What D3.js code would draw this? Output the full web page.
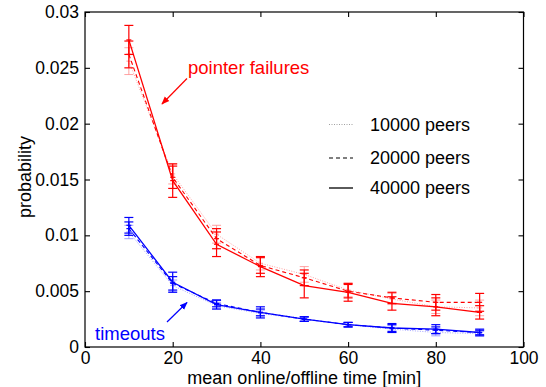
<!DOCTYPE html>
<html>
<head>
<meta charset="utf-8">
<script src="https://cdn.jsdelivr.net/npm/d3@7"></script>
<style>
  html, body { margin: 0; padding: 0; background: #fff; }
  svg { display: block; font-family: "Liberation Sans", Arial, Helvetica, sans-serif; }
</style>
</head>
<body>
<svg id="chart" width="546" height="387"></svg>
<script>
// Mean online/offline time (minutes)
const times = [10, 20, 30, 40, 50, 60, 70, 80, 90];

// Pointer failure probability, mean and half-width of error bar, per network size
const pf10k  = [0.0256, 0.0155, 0.0101, 0.0075, 0.0065, 0.0051, 0.0043, 0.0036, 0.0035];
const pf10kE = [0.0012, 0.0009, 0.0008, 0.0006, 0.0007, 0.0006, 0.0005, 0.0006, 0.0007];
const pf20k  = [0.0262, 0.0152, 0.0097, 0.0073, 0.0062, 0.0050, 0.0044, 0.0040, 0.0040];
const pf20kE = [0.0012, 0.0010, 0.0009, 0.0007, 0.0007, 0.0006, 0.0005, 0.0007, 0.0008];
const pf40k  = [0.0275, 0.0149, 0.0092, 0.0072, 0.0055, 0.0049, 0.0039, 0.0036, 0.0031];
const pf40kE = [0.0013, 0.0015, 0.0011, 0.0009, 0.0011, 0.0008, 0.0006, 0.0008, 0.0006];

// Timeout probability, mean and half-width of error bar, per network size
const to10k  = [0.0103, 0.0055, 0.0037, 0.0030, 0.0025, 0.0020, 0.0016, 0.0013, 0.0012];
const to10kE = [0.0006, 0.0005, 0.0003, 0.0003, 0.0002, 0.0002, 0.0003, 0.0003, 0.0002];
const to20k  = [0.0106, 0.0057, 0.0039, 0.0031, 0.0025, 0.0020, 0.0017, 0.0015, 0.0013];
const to20kE = [0.0006, 0.0006, 0.0003, 0.0003, 0.0002, 0.0002, 0.0003, 0.0003, 0.0002];
const to40k  = [0.0109, 0.0058, 0.0038, 0.0031, 0.0025, 0.0020, 0.0017, 0.0016, 0.0013];
const to40kE = [0.0007, 0.0009, 0.0004, 0.0005, 0.0002, 0.0002, 0.0004, 0.0004, 0.0003];

const xTicks = [0, 20, 40, 60, 80, 100];
const yTicks = [0, 0.005, 0.01, 0.015, 0.02, 0.025, 0.03];
const legendLabels = ["10000 peers", "20000 peers", "40000 peers"];

const svg = d3.select("#chart");
const plot = { left: 85, right: 523.5, top: 12, bottom: 347 };

const x = d3.scaleLinear().domain([0, 100]).range([plot.left, plot.right]);
const y = d3.scaleLinear().domain([0, 0.03]).range([plot.bottom, plot.top]);

const RED = "#ff0000", BLUE = "#0000ff";
const styles = [
  { dash: "1,1.5", width: 0.8, opacity: 0.45 },   // 10000 peers
  { dash: "4,3",   width: 1.1, opacity: 1 },      // 20000 peers
  { dash: null,    width: 1.3, opacity: 1 }       // 40000 peers
];

const groups = [
  { color: RED,  series: [[pf10k, pf10kE], [pf20k, pf20kE], [pf40k, pf40kE]] },
  { color: BLUE, series: [[to10k, to10kE], [to20k, to20kE], [to40k, to40kE]] }
];

const line = d3.line().x(d => x(d.t)).y(d => y(d.v));

groups.forEach(g => {
  g.series.forEach(([vals, errs], i) => {
    const st = styles[i];
    const pts = times.map((t, k) => ({ t, v: vals[k], e: errs[k] }));
    const sg = svg.append("g").attr("opacity", st.opacity);
    sg.append("path")
      .attr("d", line(pts))
      .attr("fill", "none")
      .attr("stroke", g.color)
      .attr("stroke-width", st.width)
      .attr("stroke-dasharray", st.dash);
    // error bars with caps
    const eb = sg.selectAll(null).data(pts).enter().append("g")
      .attr("stroke", g.color).attr("stroke-width", i === 0 ? 0.8 : 1.2);
    eb.append("line")
      .attr("x1", d => x(d.t)).attr("x2", d => x(d.t))
      .attr("y1", d => y(d.v + d.e)).attr("y2", d => y(d.v - d.e));
    [1, -1].forEach(s => {
      eb.append("line")
        .attr("x1", d => x(d.t) - 4.5).attr("x2", d => x(d.t) + 4.5)
        .attr("y1", d => y(d.v + s * d.e)).attr("y2", d => y(d.v + s * d.e));
    });
    // small centre mark
    eb.append("line")
      .attr("x1", d => x(d.t) - 2.5).attr("x2", d => x(d.t) + 2.5)
      .attr("y1", d => y(d.v)).attr("y2", d => y(d.v));
  });
});

// Axes box with inward ticks on all sides
const tickLen = 5;
const axisG = svg.append("g").attr("stroke", "#000").attr("stroke-width", 1.2);
axisG.append("rect")
  .attr("x", plot.left).attr("y", plot.top)
  .attr("width", plot.right - plot.left).attr("height", plot.bottom - plot.top)
  .attr("fill", "none");

const xAxisB = d3.axisBottom(x).tickValues(xTicks).tickSizeInner(-tickLen).tickSizeOuter(0).tickPadding(5).tickFormat(d3.format("d"));
const xAxisT = d3.axisTop(x).tickValues(xTicks).tickSizeInner(-tickLen).tickSizeOuter(0).tickFormat("");
const yAxisL = d3.axisLeft(y).tickValues(yTicks).tickSizeInner(-tickLen).tickSizeOuter(0).tickPadding(6).tickFormat(d => d === 0 ? "0" : String(+d.toFixed(3)));
const yAxisR = d3.axisRight(y).tickValues(yTicks).tickSizeInner(-tickLen).tickSizeOuter(0).tickFormat("");

function styleAxis(sel) {
  sel.select(".domain").remove();
  sel.selectAll(".tick line").attr("stroke", "#000").attr("stroke-width", 1.1);
  sel.selectAll(".tick text").attr("fill", "#000").attr("font-size", 17.5)
    .attr("font-family", "'Liberation Sans', Arial, sans-serif");
}
svg.append("g").attr("transform", `translate(0,${plot.bottom})`).call(xAxisB).call(styleAxis)
  .selectAll(".tick text").attr("dy", "0.71em");
svg.append("g").attr("transform", `translate(0,${plot.top})`).call(xAxisT).call(styleAxis);
svg.append("g").attr("transform", `translate(${plot.left},0)`).call(yAxisL).call(styleAxis);
svg.append("g").attr("transform", `translate(${plot.right},0)`).call(yAxisR).call(styleAxis);

// Axis titles
svg.append("text")
  .attr("x", (plot.left + plot.right) / 2).attr("y", 383.5)
  .attr("text-anchor", "middle").attr("font-size", 18).attr("fill", "#000")
  .text("mean online/offline time [min]");
svg.append("text")
  .attr("transform", `translate(31,177) rotate(-90)`)
  .attr("text-anchor", "middle").attr("font-size", 18).attr("fill", "#000")
  .text("probability");

// Legend
legendLabels.forEach((lab, i) => {
  const ly = [124.5, 158, 188][i];
  const st = styles[i];
  svg.append("line")
    .attr("x1", 329).attr("x2", 353).attr("y1", ly).attr("y2", ly)
    .attr("stroke", i === 0 ? "#888" : "#000").attr("stroke-width", st.width)
    .attr("stroke-dasharray", st.dash);
  svg.append("text")
    .attr("x", 370).attr("y", ly).attr("dy", "0.35em")
    .attr("font-size", 18).attr("fill", "#000")
    .text(lab);
});

// Annotations with arrows
const defs = svg.append("defs");
[["arrRed", RED], ["arrBlue", BLUE]].forEach(([id, c]) => {
  defs.append("marker").attr("id", id)
    .attr("viewBox", "0 0 10 10").attr("refX", 9).attr("refY", 5)
    .attr("markerWidth", 8).attr("markerHeight", 8).attr("orient", "auto")
    .attr("markerUnits", "userSpaceOnUse")
    .append("path").attr("d", "M0,1 L10,5 L0,9 Z").attr("fill", c);
});

svg.append("text").attr("x", 188).attr("y", 74)
  .attr("font-size", 18.5).attr("fill", RED).text("pointer failures");
svg.append("line").attr("x1", 187).attr("y1", 78.5).attr("x2", 162).attr("y2", 104)
  .attr("stroke", RED).attr("stroke-width", 1.2).attr("marker-end", "url(#arrRed)");

svg.append("text").attr("x", 95).attr("y", 340)
  .attr("font-size", 18.5).attr("fill", BLUE).text("timeouts");
svg.append("line").attr("x1", 167).attr("y1", 322).attr("x2", 187).attr("y2", 302.5)
  .attr("stroke", BLUE).attr("stroke-width", 1.2).attr("marker-end", "url(#arrBlue)");
</script>
</body>
</html>
